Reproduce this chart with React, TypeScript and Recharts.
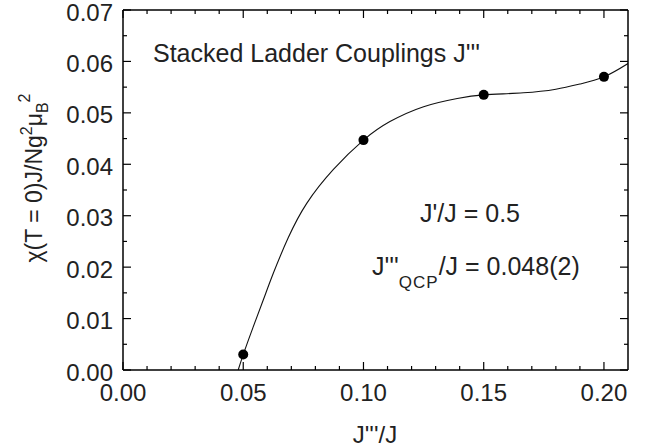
import React from 'react';
import {
  ComposedChart,
  Line,
  Scatter,
  XAxis,
  YAxis,
} from 'recharts';

// fitted curve
const curveX = [0.0479, 0.05, 0.054, 0.0584, 0.0625, 0.0687, 0.0764, 0.0875, 0.1, 0.111, 0.125, 0.139, 0.15, 0.1665, 0.18, 0.19, 0.2, 0.21];
const curveY = [0.0, 0.003, 0.0082, 0.0137, 0.0188, 0.0257, 0.0324, 0.039, 0.0447, 0.0483, 0.0512, 0.0528, 0.0535, 0.0539, 0.0546, 0.0556, 0.057, 0.0596];

// measured points
const pointX = [0.05, 0.1, 0.15, 0.2];
const pointY = [0.003, 0.0447, 0.0535, 0.057];

const xMajor = [0, 0.05, 0.1, 0.15, 0.2];
const xMinor = [0.01, 0.02, 0.03, 0.04, 0.06, 0.07, 0.08, 0.09, 0.11, 0.12, 0.13, 0.14, 0.16, 0.17, 0.18, 0.19];
const yMajor = [0, 0.01, 0.02, 0.03, 0.04, 0.05, 0.06, 0.07];
const yMinor = [0.005, 0.015, 0.025, 0.035, 0.045, 0.055, 0.065];

const curve = curveX.map((x, i) => ({ x, y: curveY[i] }));
const points = pointX.map((x, i) => ({ x, y: pointY[i] }));
const xAll = [...xMajor, ...xMinor].sort((a, b) => a - b);
const yAll = [...yMajor, ...yMinor].sort((a, b) => a - b);

const FONT = 'Liberation Sans, Arial, Helvetica, sans-serif';
const INK = '#222';
const axisLine = { stroke: '#000', strokeWidth: 1.5 };
const MAJOR = 8;
const MINOR = 4;

// ticks point into the plot, labels only on major ones
const BottomTick = (p: any) => {
  const major = xMajor.includes(p.payload.value);
  return (
    <g>
      <line x1={p.x} x2={p.x} y1={p.y} y2={p.y - (major ? MAJOR : MINOR)} stroke="#000" strokeWidth={1.2} />
      {major && (
        <text x={p.x} y={p.y + 31} textAnchor="middle" fontSize={24} fill={INK} fontFamily={FONT}>
          {p.payload.value.toFixed(2)}
        </text>
      )}
    </g>
  );
};
const TopTick = (p: any) => {
  const major = xMajor.includes(p.payload.value);
  return <line x1={p.x} x2={p.x} y1={p.y} y2={p.y + (major ? MAJOR : MINOR)} stroke="#000" strokeWidth={1.2} />;
};
const LeftTick = (p: any) => {
  const major = yMajor.includes(p.payload.value);
  return (
    <g>
      <line x1={p.x} x2={p.x + (major ? MAJOR : MINOR)} y1={p.y} y2={p.y} stroke="#000" strokeWidth={1.2} />
      {major && (
        <text x={p.x - 10} y={p.y + 10.5} textAnchor="end" fontSize={24} fill={INK} fontFamily={FONT}>
          {p.payload.value.toFixed(2)}
        </text>
      )}
    </g>
  );
};
const RightTick = (p: any) => {
  const major = yMajor.includes(p.payload.value);
  return <line x1={p.x} x2={p.x - (major ? MAJOR : MINOR)} y1={p.y} y2={p.y} stroke="#000" strokeWidth={1.2} />;
};

const Dot = (props: any) => <circle cx={props.cx} cy={props.cy} r={5} fill="#000" />;

export default function App() {
  return (
    <div style={{ position: 'absolute', left: 0, top: 0, width: 647, height: 448, background: '#fff' }}>
      <ComposedChart width={647} height={448} data={curve} margin={{ top: 9, right: 18, left: 0, bottom: 0 }}>
        <XAxis
          type="number"
          dataKey="x"
          domain={[0, 0.21]}
          allowDataOverflow
          ticks={xAll}
          interval={0}
          height={78}
          tickSize={0}
          tickMargin={0}
          axisLine={axisLine}
          tickLine={false}
          tick={BottomTick}
        />
        <XAxis xAxisId="top" orientation="top" type="number" dataKey="x" domain={[0, 0.21]} allowDataOverflow
          ticks={xAll} interval={0} height={1} tickSize={0} tickMargin={0} axisLine={axisLine} tickLine={false} tick={TopTick} />
        <YAxis
          type="number"
          dataKey="y"
          domain={[0, 0.07]}
          allowDataOverflow
          ticks={yAll}
          interval={0}
          width={123}
          tickSize={0}
          tickMargin={0}
          axisLine={axisLine}
          tickLine={false}
          tick={LeftTick}
        />
        <YAxis yAxisId="right" orientation="right" type="number" dataKey="y" domain={[0, 0.07]} allowDataOverflow
          ticks={yAll} interval={0} width={1} tickSize={0} tickMargin={0} axisLine={axisLine} tickLine={false} tick={RightTick} />
        <Line
          data={curve}
          dataKey="y"
          type="natural"
          stroke="#111"
          strokeWidth={1.1}
          dot={false}
          activeDot={false}
          isAnimationActive={false}
        />
        <Scatter data={points} dataKey="y" shape={Dot} isAnimationActive={false} />
      </ComposedChart>
      <svg width={647} height={448} style={{ position: 'absolute', left: 0, top: 0, pointerEvents: 'none' }}>
        <g fontFamily={FONT} fill={INK}>
          <text x={153} y={62} fontSize={25}>Stacked Ladder Couplings J'''</text>
          <text x={470} y={222} fontSize={25} textAnchor="middle">J'/J = 0.5</text>
          <text x={372} y={275} fontSize={25}>
            J'''
            <tspan fontSize={17} dy={13} letterSpacing={1}>QCP</tspan>
            <tspan dy={-13}>/J = 0.048(2)</tspan>
          </text>
          <text x={375} y={443} fontSize={24} textAnchor="middle">J'''/J</text>
          <text x={42} y={178} fontSize={23} textAnchor="middle" transform="rotate(-90, 42, 178)">
            χ(T = 0)J/Ng
            <tspan fontSize={16} dy={-10}>2</tspan>
            <tspan dy={10}>μ</tspan>
            <tspan fontSize={16} dy={6}>B</tspan>
            <tspan fontSize={16} dy={-18}>2</tspan>
          </text>
        </g>
      </svg>
    </div>
  );
}
